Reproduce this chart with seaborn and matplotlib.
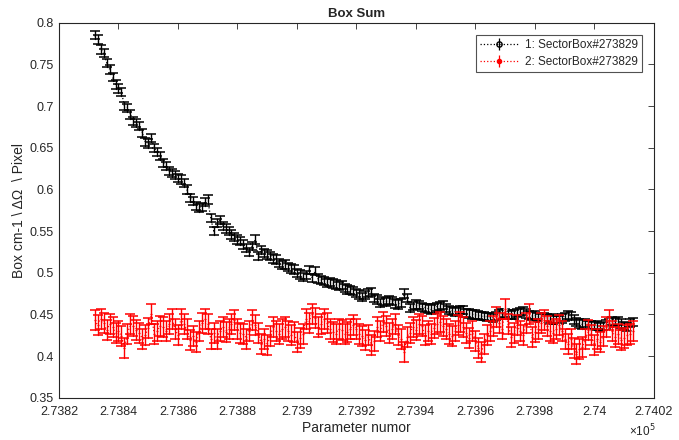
import matplotlib
matplotlib.use("Agg")
import matplotlib.pyplot as plt
import numpy as np
import pandas as pd
import seaborn as sns

# numor axis (one point per numor)
start_numor = 273832

box1_vals = [
    0.785, 0.780, 0.768, 0.764, 0.752, 0.744, 0.735, 0.726, 0.721, 0.717,
    0.700, 0.698, 0.690, 0.682, 0.680, 0.676, 0.668, 0.657, 0.655, 0.662,
    0.650, 0.645, 0.640, 0.632, 0.628, 0.622, 0.620, 0.617, 0.614, 0.612,
    0.608, 0.600, 0.590, 0.586, 0.580, 0.578, 0.579, 0.585, 0.588, 0.566,
    0.550, 0.560, 0.563, 0.556, 0.553, 0.550, 0.546, 0.543, 0.540, 0.538,
    0.534, 0.530, 0.525, 0.532, 0.540, 0.520, 0.527, 0.524, 0.522, 0.520,
    0.517, 0.516, 0.512, 0.509, 0.510, 0.507, 0.505, 0.504, 0.500, 0.498,
    0.495, 0.497, 0.503, 0.494, 0.502, 0.493, 0.491, 0.490, 0.488, 0.489,
    0.487, 0.486, 0.484, 0.485, 0.482, 0.480, 0.479, 0.478, 0.476, 0.474,
    0.471, 0.473, 0.476, 0.477, 0.470, 0.468, 0.464, 0.466, 0.465, 0.467,
    0.466, 0.463, 0.462, 0.464, 0.475, 0.470, 0.458, 0.460, 0.462, 0.461,
    0.459, 0.458, 0.457, 0.456, 0.457, 0.459, 0.460, 0.461, 0.458, 0.455,
    0.454, 0.453, 0.454, 0.455, 0.455, 0.452, 0.451, 0.450, 0.450, 0.449,
    0.448, 0.448, 0.447, 0.447, 0.446, 0.448, 0.450, 0.451, 0.452, 0.450,
    0.449, 0.450, 0.452, 0.453, 0.454, 0.451, 0.449, 0.448, 0.449, 0.447,
    0.446, 0.447, 0.446, 0.444, 0.445, 0.443, 0.443, 0.445, 0.447, 0.449,
    0.448, 0.444, 0.441, 0.439, 0.438, 0.440, 0.437, 0.437, 0.436, 0.437,
    0.435, 0.436, 0.438, 0.440, 0.442, 0.441, 0.442, 0.439, 0.436, 0.435,
    0.440, 0.441,
]

box2_vals = [
    0.443, 0.437, 0.445, 0.440, 0.431, 0.438, 0.435, 0.428, 0.430, 0.424,
    0.410, 0.426, 0.439, 0.436, 0.431, 0.428, 0.421, 0.425, 0.434, 0.451,
    0.427, 0.430, 0.436, 0.435, 0.430, 0.438, 0.445, 0.432, 0.425, 0.445,
    0.438, 0.432, 0.419, 0.424, 0.417, 0.430, 0.440, 0.445, 0.438, 0.421,
    0.428, 0.421, 0.430, 0.435, 0.429, 0.433, 0.438, 0.443, 0.433, 0.428,
    0.427, 0.421, 0.430, 0.443, 0.437, 0.428, 0.415, 0.420, 0.413, 0.424,
    0.435, 0.430, 0.427, 0.432, 0.435, 0.430, 0.425, 0.429, 0.417, 0.422,
    0.426, 0.445, 0.440, 0.451, 0.446, 0.435, 0.438, 0.445, 0.440, 0.433,
    0.429, 0.427, 0.432, 0.431, 0.426, 0.429, 0.433, 0.437, 0.432, 0.427,
    0.424, 0.419, 0.425, 0.413, 0.418, 0.435, 0.430, 0.441, 0.436, 0.428,
    0.432, 0.438, 0.425, 0.420, 0.405, 0.423, 0.428, 0.435, 0.431, 0.439,
    0.436, 0.425, 0.430, 0.427, 0.434, 0.439, 0.441, 0.436, 0.432, 0.427,
    0.424, 0.430, 0.437, 0.441, 0.435, 0.428, 0.422, 0.430, 0.418, 0.410,
    0.405, 0.415, 0.425, 0.430, 0.436, 0.447, 0.440, 0.432, 0.457, 0.438,
    0.423, 0.428, 0.437, 0.430, 0.425, 0.440, 0.451, 0.423, 0.429, 0.433,
    0.440, 0.443, 0.436, 0.430, 0.428, 0.433, 0.437, 0.430, 0.420, 0.415,
    0.420, 0.410, 0.403, 0.408, 0.411, 0.420, 0.431, 0.425, 0.413, 0.420,
    0.417, 0.424, 0.435, 0.443, 0.430, 0.423, 0.427, 0.419, 0.422, 0.425,
    0.427, 0.430,
]

box1_err = 0.005
box2_err = 0.012

labels = ["1: SectorBox#273829", "2: SectorBox#273829"]
x_ticks = [273820, 273840, 273860, 273880, 273900, 273920, 273940, 273960, 273980, 274000, 274020]
y_ticks = [0.35, 0.4, 0.45, 0.5, 0.55, 0.6, 0.65, 0.7, 0.75, 0.8]

numors = np.arange(start_numor, start_numor + len(box1_vals))


def long_frame(vals, err):
    # two observations per numor (value -/+ error) so seaborn draws the bar span
    vals = np.asarray(vals)
    return pd.DataFrame({
        "numor": np.concatenate([numors, numors]),
        "value": np.concatenate([vals - err, vals + err]),
    })


sns.set_theme(style="white")
plt.rcParams["font.family"] = ["Liberation Sans", "DejaVu Sans"]

fig = plt.figure(figsize=(6.79, 4.40), dpi=100)
ax = fig.add_axes([0.0869, 0.0961, 0.876, 0.852])

span = lambda s: (s.min(), s.max())
bar_kws = {"capsize": 3.5, "elinewidth": 1.0, "capthick": 1.1}

sns.lineplot(data=long_frame(box1_vals, box1_err), x="numor", y="value", ax=ax,
             estimator="mean", errorbar=span, err_style="bars",
             color="black", linestyle=":", linewidth=0.9,
             marker="o", markersize=3.8, markerfacecolor="none", markeredgewidth=0.9,
             err_kws=bar_kws)
sns.lineplot(data=long_frame(box2_vals, box2_err), x="numor", y="value", ax=ax,
             estimator="mean", errorbar=span, err_style="bars",
             color="red", linestyle=":", linewidth=0.9,
             marker=".", markersize=4.5,
             err_kws=bar_kws)

# legend proxies (empty)
h1 = ax.errorbar([], [], yerr=[], color="black", linestyle=":", linewidth=0.9, marker="o",
                 markersize=3.8, markerfacecolor="none", capsize=3.5)
h2 = ax.errorbar([], [], yerr=[], color="red", linestyle=":", linewidth=0.9, marker=".",
                 markersize=6, capsize=3.5)
leg = ax.legend([h1, h2], labels, loc="upper right", fontsize=8.5, fancybox=False,
                frameon=True, borderaxespad=1.0, handlelength=3.2, borderpad=0.35,
                labelspacing=0.45, handletextpad=0.6)
leg.get_frame().set_edgecolor("#262626")
leg.get_frame().set_linewidth(0.8)

ax.set_xlim(273820, 274020)
ax.set_ylim(0.35, 0.8)
ax.set_xticks(x_ticks)
ax.set_xticklabels([f"{t / 1e5:g}" for t in x_ticks])
ax.set_yticks(y_ticks)
ax.set_yticklabels([f"{t:g}" for t in y_ticks])

ax.tick_params(direction="in", length=4, width=0.6, top=True, right=True,
               labelsize=9, colors="#262626")
ax.tick_params(axis="x", pad=6)
ax.tick_params(axis="y", pad=4)
for sp in ax.spines.values():
    sp.set_color("#262626")
    sp.set_linewidth(0.8)

ax.set_title("Box Sum", fontsize=9.5, fontweight="bold", pad=4)
ax.set_xlabel("Parameter numor", fontsize=10, labelpad=2)
ax.set_ylabel("Box cm-1 \\ ΔΩ  \\ Pixel", fontsize=10, labelpad=2)
fig.text(0.927, 0.008, "×10$^{5}$", fontsize=8.5, color="#262626")

fig.savefig("out.png", dpi=100)
